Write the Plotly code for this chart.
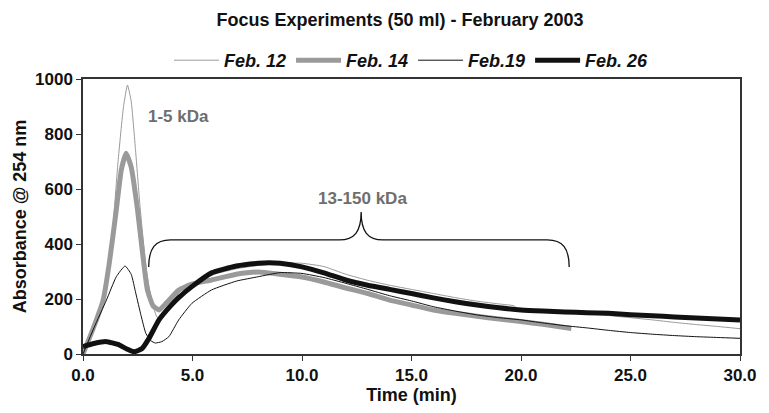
import plotly.graph_objects as go

# ---- data ----
t12 = [0, 0.5, 0.9, 1.3, 1.6, 1.85, 2.03, 2.2, 2.4, 2.6, 2.9, 3.15, 3.4, 3.8, 4.4, 5.0, 6.0, 7.0, 8.0, 9.0, 10.0,
       11.0, 12.0, 13.0, 14.0, 15.0, 16.0, 17.0, 18.0, 19.0, 19.7, 19.8, 21, 22, 23, 24, 25, 26, 27, 28, 29, 30]
v12 = [0, 100, 190, 400, 700, 900, 978, 920, 740, 540, 300, 190, 132, 150, 225, 255, 290, 310, 322, 330, 330,
       318, 290, 268, 250, 235, 220, 205, 192, 182, 175, 165, 157, 153, 148, 140, 132, 124, 115, 107, 100, 92]

t14 = [0, 0.5, 0.92, 1.2, 1.52, 1.75, 1.97, 2.2, 2.49, 2.7, 2.94, 3.2, 3.47, 3.8, 4.37, 5.0, 5.87, 7.0, 8.0,
       9.0, 10, 11, 12, 13, 14, 15, 16, 17, 18, 19, 20, 21, 22.3]
v14 = [0, 100, 196, 330, 524, 670, 730, 680, 524, 380, 233, 175, 160, 185, 233, 255, 269, 290, 298,
       290, 280, 262, 240, 220, 196, 178, 160, 148, 137, 127, 118, 108, 93]

t19 = [0, 0.5, 1.07, 1.52, 1.92, 2.2, 2.41, 2.65, 2.87, 3.1, 3.3, 3.6, 3.92, 4.37, 4.97, 5.87, 7.0, 8.0, 9.0,
       10, 11, 12, 13, 14, 15, 16, 17, 18, 19, 20, 21, 22, 23, 24, 25, 26, 27, 28, 29, 30]
v19 = [0, 95, 196, 281, 320, 290, 221, 140, 75, 48, 40, 45, 63, 124, 184, 233, 265, 281, 296,
       293, 278, 257, 235, 212, 193, 172, 156, 142, 132, 124, 113, 103, 95, 86, 78, 72, 67, 63, 60, 57]

t26 = [0, 0.5, 1.07, 1.6, 2.0, 2.34, 2.7, 3.0, 3.47, 4.0, 4.37, 4.97, 5.87, 7.0, 8.0, 8.5, 9.0, 10, 11, 12,
       13, 14, 15, 16, 17, 18, 19, 20, 21, 22, 23, 24, 25, 26, 27, 28, 29, 30]
v26 = [27, 38, 45, 35, 18, 8, 20, 55, 124, 175, 205, 245, 295, 320, 330, 332, 330, 317, 295, 269,
       250, 235, 220, 204, 190, 178, 168, 160, 156, 153, 150, 148, 143, 139, 135, 131, 127, 124]

series_names = ["Feb. 12", "Feb. 14", "Feb.19", "Feb. 26"]
x_ticks = [0, 5, 10, 15, 20, 25, 30]
y_ticks = [0, 200, 400, 600, 800, 1000]

FONT = "Liberation Sans, Arial, sans-serif"

fig = go.Figure()
styles = [("#9a9a9a", 1), ("#9a9a9a", 5), ("#111111", 1), ("#111111", 5)]
for (tx, vy), name, (col, w) in zip([(t12, v12), (t14, v14), (t19, v19), (t26, v26)], series_names, styles):
    fig.add_trace(go.Scatter(x=tx, y=vy, mode="lines", name=name,
                             line=dict(color=col, width=w, shape="spline", smoothing=0.45)))

# brace over the 13-150 kDa region
bx0, bx1, bxm = 3.0, 22.2, 12.7
by0, by1, bym = 316, 415, 516
path = (f"M {bx0},{by0} C {bx0},{by1-30} {bx0+0.3},{by1} {bx0+1.0},{by1} "
        f"L {bxm-1.0},{by1} C {bxm-0.3},{by1} {bxm},{by1+30} {bxm},{bym} "
        f"C {bxm},{by1+30} {bxm+0.3},{by1} {bxm+1.0},{by1} "
        f"L {bx1-1.0},{by1} C {bx1-0.3},{by1} {bx1},{by1-30} {bx1},{by0}")
fig.add_shape(type="path", path=path, xref="x", yref="y", line=dict(color="#111111", width=1.3))

fig.add_annotation(x=4.37, y=865, text="<b>1-5 kDa</b>", showarrow=False,
                   font=dict(family=FONT, size=17, color="#6e6e6e"))
fig.add_annotation(x=12.75, y=565, text="<b>13-150 kDa</b>", showarrow=False,
                   font=dict(family=FONT, size=17, color="#6e6e6e"))

fig.update_layout(
    width=769, height=413,
    margin=dict(l=83, r=20, t=79, b=59),
    paper_bgcolor="white", plot_bgcolor="white",
    title=dict(text="<b>Focus Experiments (50 ml) - February 2003</b>", x=400/769, xanchor="center",
               y=1 - 20/413, yanchor="middle", font=dict(family=FONT, size=18, color="#111111")),
    showlegend=True,
    legend=dict(orientation="h", x=0.5, xanchor="center", y=1.0, yanchor="bottom",
                font=dict(family=FONT, size=18, color="#111111", weight="bold", style="italic"),
                itemwidth=45, tracegroupgap=0, bgcolor="rgba(0,0,0,0)"),
    xaxis=dict(range=[0, 30], tickvals=x_ticks, ticktext=[f"{v:.1f}" for v in x_ticks],
               ticks="outside", ticklen=5, tickcolor="#333", showline=True, linecolor="#333",
               linewidth=1.5, mirror=True, showgrid=False, zeroline=False,
               tickfont=dict(family=FONT, size=17, color="#111111", weight="bold"),
               title=dict(text="<b>Time (min)</b>", standoff=2,
                          font=dict(family=FONT, size=18, color="#111111"))),
    yaxis=dict(range=[0, 1000], tickvals=y_ticks, ticks="outside", ticklen=5, tickcolor="#333",
               showline=True, linecolor="#333", linewidth=1.5, mirror=True, showgrid=False,
               zeroline=False,
               tickfont=dict(family=FONT, size=17, color="#111111", weight="bold"),
               title=dict(text="<b>Absorbance @ 254 nm</b>", standoff=4,
                          font=dict(family=FONT, size=18, color="#111111"))),
)

fig.write_html("out.html")
